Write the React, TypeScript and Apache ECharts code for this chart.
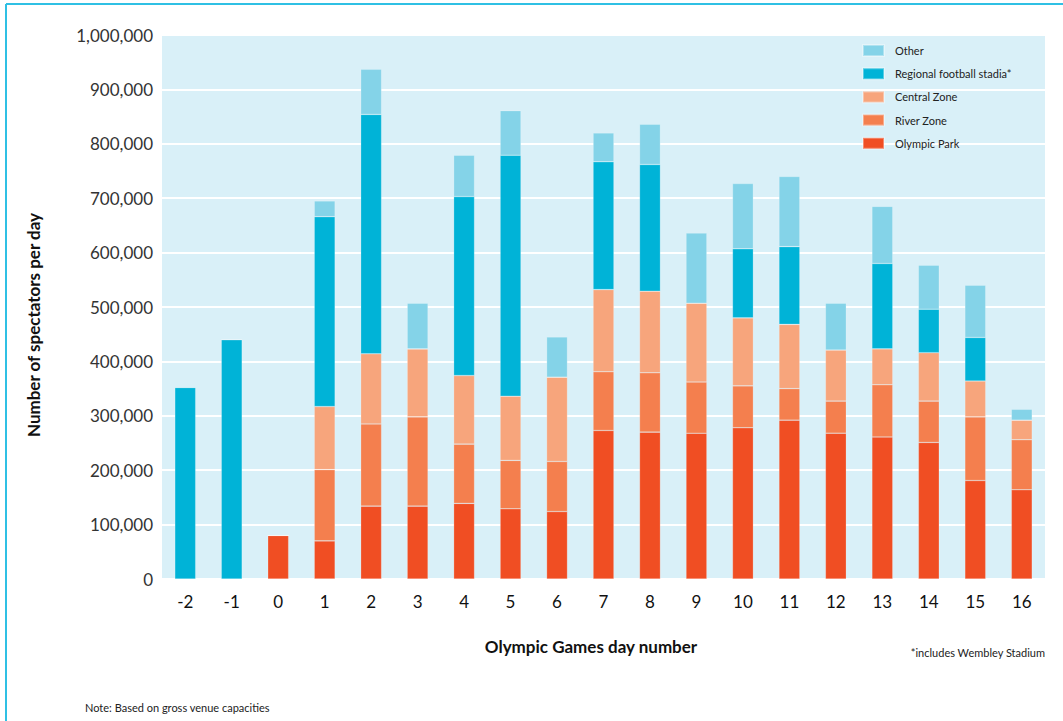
import React, { useEffect, useRef } from "react";
import * as echarts from "echarts";

const days = ["-2", "-1", "0", "1", "2", "3", "4", "5", "6", "7", "8", "9", "10", "11", "12", "13", "14", "15", "16"];
const olympicPark = [0, 0, 80000, 70000, 134000, 134000, 139000, 129000, 124000, 273000, 270000, 268000, 278000, 292000, 268000, 261000, 251000, 181000, 164000];
const riverZone = [0, 0, 0, 131000, 151000, 164000, 109000, 89000, 92000, 108000, 109000, 94000, 77000, 58000, 59000, 96000, 76000, 117000, 92000];
const centralZone = [0, 0, 0, 116000, 129000, 125000, 126000, 118000, 155000, 151000, 150000, 145000, 125000, 118000, 94000, 66000, 89000, 66000, 36000];
const regionalFootball = [352000, 440000, 0, 349000, 440000, 0, 329000, 443000, 0, 235000, 233000, 0, 127000, 143000, 0, 157000, 80000, 80000, 0];
const other = [0, 0, 0, 29000, 83000, 84000, 76000, 82000, 74000, 53000, 74000, 129000, 120000, 129000, 86000, 105000, 81000, 96000, 20000];

const seriesNames = ["Olympic Park", "River Zone", "Central Zone", "Regional football stadia*", "Other"];
const legendOrder = ["Other", "Regional football stadia*", "Central Zone", "River Zone", "Olympic Park"];
const colors = ["#f04e23", "#f47f4e", "#f7a57c", "#00b3d7", "#84d3e8"];

const FONT = "Lato, 'Open Sans', sans-serif";

export default function App() {
  const ref = useRef<HTMLDivElement>(null);
  useEffect(() => {
    if (!ref.current) return;
    const chart = echarts.init(ref.current, null, { renderer: "svg" });
    const datasets = [olympicPark, riverZone, centralZone, regionalFootball, other];
    chart.setOption({
      animation: false,
      backgroundColor: "#ffffff",
      textStyle: { fontFamily: FONT },
      grid: {
        left: 162,
        right: 18,
        top: 35,
        bottom: 142,
        show: true,
        backgroundColor: "#d9f0f8",
        borderWidth: 0,
      },
      legend: {
        orient: "vertical",
        left: 862,
        top: 44,
        padding: 0,
        itemWidth: 21,
        itemHeight: 11,
        itemGap: 10.2,
        icon: "rect",
        data: legendOrder,
        textStyle: { fontSize: 11, color: "#222", fontFamily: FONT, padding: [0, 0, 0, 6] },
      },
      xAxis: {
        type: "category",
        data: days,
        axisLine: { show: false },
        axisTick: { show: false },
        axisLabel: { fontSize: 17, color: "#111", margin: 14, fontFamily: FONT },
        splitLine: { show: false },
      },
      yAxis: {
        type: "value",
        min: 0,
        max: 1000000,
        interval: 100000,
        axisLine: { show: false },
        axisTick: { show: false },
        axisLabel: {
          fontSize: 17,
          color: "#333",
          margin: 9,
          fontFamily: FONT,
          formatter: (v: number) => v.toLocaleString("en-US"),
        },
        splitLine: { show: true, lineStyle: { color: "#ffffff", width: 2 } },
      },
      series: seriesNames.map((name, i) => ({
        name,
        type: "bar",
        stack: "total",
        barWidth: "45%",
        data: datasets[i],
        itemStyle: { color: colors[i], borderColor: "rgba(255,255,255,0.35)", borderWidth: 0.6 },
      })),
      graphic: [
        { type: "line", shape: { x1: 6, y1: 4, x2: 1063, y2: 4 }, style: { stroke: "#2fc0e4", lineWidth: 2 } },
        { type: "line", shape: { x1: 6, y1: 4, x2: 6, y2: 721 }, style: { stroke: "#2fc0e4", lineWidth: 2 } },
        {
          type: "text",
          x: 33,
          y: 325,
          rotation: Math.PI / 2,
          style: {
            text: "Number of spectators per day",
            fontSize: 17,
            fontWeight: "bold",
            fontFamily: FONT,
            fill: "#111",
            align: "center",
            verticalAlign: "middle",
          },
        },
        {
          type: "text",
          x: 591,
          y: 646,
          style: {
            text: "Olympic Games day number",
            fontSize: 17,
            fontWeight: "bold",
            fontFamily: FONT,
            fill: "#111",
            align: "center",
            verticalAlign: "middle",
          },
        },
        {
          type: "text",
          x: 1045,
          y: 652,
          style: {
            text: "*includes Wembley Stadium",
            fontSize: 11,
            fontFamily: FONT,
            fill: "#222",
            align: "right",
            verticalAlign: "middle",
          },
        },
        {
          type: "text",
          x: 85,
          y: 707,
          style: {
            text: "Note: Based on gross venue capacities",
            fontSize: 11,
            fontFamily: FONT,
            fill: "#222",
            align: "left",
            verticalAlign: "middle",
          },
        },
      ],
    });
    return () => chart.dispose();
  }, []);
  return <div ref={ref} style={{ position: "absolute", left: 0, top: 0, width: 1063, height: 721 }} />;
}
